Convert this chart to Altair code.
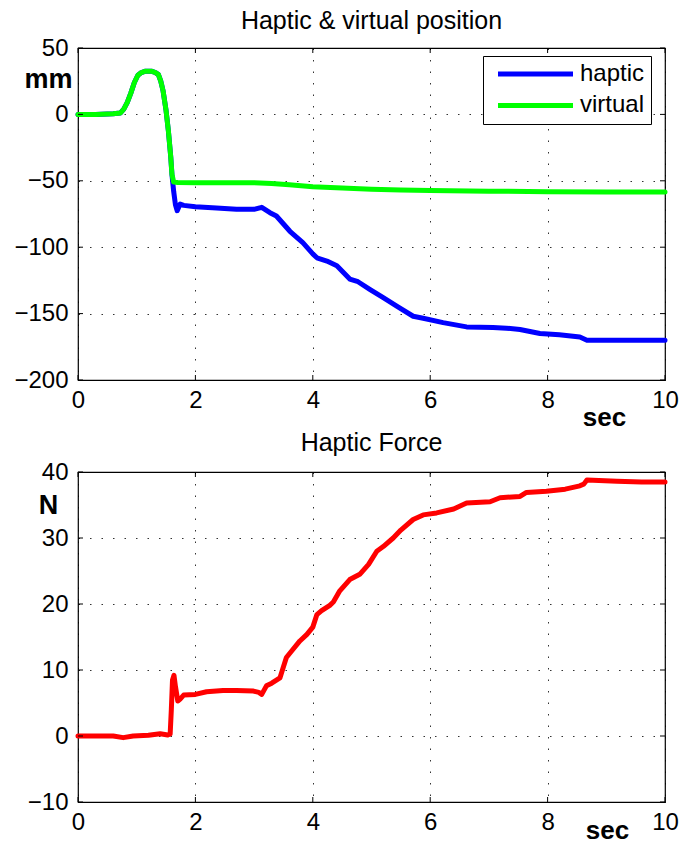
import altair as alt
import pandas as pd

# ---------------- data ----------------
pos_t = [0, 0.3, 0.6, 0.72, 0.78, 0.84, 0.9, 0.96, 1.02, 1.08,
         1.15, 1.25, 1.32, 1.37, 1.41, 1.45, 1.5, 1.54, 1.58, 1.6,
         1.63, 1.66, 1.69, 1.74, 1.8, 2.0, 2.36, 2.7, 3.0, 3.13,
         3.27, 3.38, 3.55, 3.61, 3.83, 4.0, 4.07, 4.24, 4.41, 4.63,
         4.77, 4.97, 5.2, 5.45, 5.71, 5.88, 6.22, 6.62, 7.07, 7.3,
         7.53, 7.87, 8.2, 8.55, 8.67, 9.0, 9.5, 10.0]
haptic_mm = [0, 0, 0.5, 1, 4, 9, 16, 24, 29.5, 31.5,
             32.5, 32.5, 31.5, 30, 25, 17.6, 3, -12.5, -32, -45,
             -58, -68, -72.5, -67.5, -68.5, -69.5, -70.5, -71.5, -71.5, -70,
             -74, -76.5, -85, -88, -96.6, -105, -108, -110.4, -114, -124,
             -126, -131.7, -138, -145, -152, -153.5, -156.8, -160, -160.5, -161,
             -162, -165, -166, -167.6, -170, -170, -170, -170]

virt_t = [0, 0.3, 0.6, 0.72, 0.78, 0.84, 0.9, 0.96, 1.02, 1.08,
          1.15, 1.25, 1.32, 1.37, 1.41, 1.45, 1.5, 1.54, 1.58, 1.6,
          1.63, 1.7, 2.0, 2.5, 3.0, 3.3, 3.6, 4.0, 4.5, 5.0,
          5.5, 6.0, 7.0, 8.0, 9.0, 10.0]
virtual_mm = [0, 0, 0.5, 1, 4, 9, 16, 24, 29.5, 31.5,
              32.5, 32.5, 31.5, 30, 25, 17.6, 3, -12.5, -32, -45,
              -51, -51.3, -51.5, -51.5, -51.5, -52, -53, -54.5, -55.5, -56.3,
              -57, -57.3, -57.8, -58.2, -58.5, -58.5]

force_t = [0, 0.3, 0.6, 0.77, 0.94, 1.2, 1.4, 1.53, 1.57, 1.59,
           1.61, 1.635, 1.66, 1.7, 1.74, 1.8, 2.0, 2.19, 2.47, 2.7,
           2.99, 3.08, 3.13, 3.21, 3.3, 3.44, 3.5, 3.55, 3.65, 3.78,
           3.9, 4.0, 4.07, 4.15, 4.29, 4.35, 4.46, 4.63, 4.8, 4.95,
           5.09, 5.2, 5.37, 5.5, 5.71, 5.88, 6.11, 6.4, 6.62, 7.02,
           7.19, 7.53, 7.64, 7.98, 8.3, 8.55, 8.62, 8.67, 9.18, 9.6,
           10.0]
force_N = [0, 0, 0, -0.25, 0, 0.1, 0.35, 0.15, 0.3, 4,
           8.5, 9.2, 7.5, 5.3, 5.6, 6.2, 6.3, 6.7, 6.9, 6.9,
           6.8, 6.6, 6.3, 7.6, 8, 8.8, 10.5, 11.9, 13, 14.4,
           15.4, 16.5, 18.4, 19, 19.8, 20.3, 22, 23.7, 24.5, 26,
           28, 28.7, 30, 31.2, 32.8, 33.5, 33.8, 34.4, 35.3, 35.5,
           36.1, 36.3, 36.9, 37.1, 37.4, 37.9, 38.2, 38.8, 38.6, 38.5,
           38.5]

series_names = ["haptic", "virtual"]
series_colors = ["#0000ff", "#00ff00"]
force_color = "#ff0000"

x_ticks = [0, 2, 4, 6, 8, 10]
pos_ticks = [-200, -150, -100, -50, 0, 50]
force_ticks = [-10, 0, 10, 20, 30, 40]

# ---------------- layout / style ----------------
FONT = "Liberation Sans"
W = 587
H1 = 332
H2 = 330
TICK = 5
LW = 5

pos_df = pd.concat([
    pd.DataFrame({"t": pos_t, "v": haptic_mm, "series": series_names[0]}),
    pd.DataFrame({"t": virt_t, "v": virtual_mm, "series": series_names[1]}),
], ignore_index=True)
force_df = pd.DataFrame({"t": force_t, "f": force_N})

xt_df = pd.DataFrame({"t": x_ticks})
pt_df = pd.DataFrame({"v": pos_ticks})
ft_df = pd.DataFrame({"f": force_ticks})

grid_kw = dict(grid=True, gridDash=[1.5, 10], gridColor="#000000", gridWidth=1,
               gridOpacity=0.8, ticks=False, domain=False, labelFont=FONT,
               labelFontSize=24, labelColor="black", labelOverlap=False)


def x_axis(sx, sy):
    return alt.Axis(values=x_ticks, labelPadding=8, labelFlush=False,
                    title="sec", titleFont=FONT, titleFontSize=26,
                    titleFontWeight="bold", titleColor="black",
                    titleX=sx, titleY=sy, titleAlign="center",
                    titleBaseline="middle", **grid_kw)


def y_axis(vals, title, ty):
    return alt.Axis(values=vals, labelPadding=10, title=title, titleFont=FONT,
                    titleFontSize=27, titleFontWeight="bold", titleColor="black",
                    titleAngle=0, titleX=-30, titleY=ty, titleAlign="center",
                    titleBaseline="middle", **grid_kw)


def panel(line_layer, yfield, yvals, ydomain, ytitle, ty, ytick_df, H, title,
          toff, sx, sy):
    xs = alt.Scale(domain=[0, 10], nice=False, zero=False)
    ys = alt.Scale(domain=ydomain, nice=False, zero=False)
    X = alt.X("t:Q", scale=xs, axis=x_axis(sx, sy))
    Y = alt.Y(f"{yfield}:Q", scale=ys, axis=y_axis(yvals, ytitle, ty))
    lines = line_layer.encode(x=X, y=Y)
    tb = alt.Chart(xt_df).mark_rule(color="black", strokeWidth=1).encode(
        x=X, y=alt.value(H), y2=alt.value(H - TICK))
    tt = alt.Chart(xt_df).mark_rule(color="black", strokeWidth=1).encode(
        x=X, y=alt.value(0), y2=alt.value(TICK))
    tl = alt.Chart(ytick_df).mark_rule(color="black", strokeWidth=1).encode(
        y=Y, x=alt.value(0), x2=alt.value(TICK))
    tr = alt.Chart(ytick_df).mark_rule(color="black", strokeWidth=1).encode(
        y=Y, x=alt.value(W), x2=alt.value(W - TICK))
    return alt.layer(lines, tb, tt, tl, tr).properties(
        width=W, height=H,
        title=alt.TitleParams(title, font=FONT, fontSize=25, fontWeight="normal",
                              color="black", anchor="middle", offset=toff,
                              baseline="alphabetic", frame="group"))


pos_lines = alt.Chart(pos_df).mark_line(
    strokeWidth=LW, strokeCap="round", strokeJoin="round").encode(
    color=alt.Color("series:N",
                    scale=alt.Scale(domain=series_names, range=series_colors),
                    legend=alt.Legend(orient="none", legendX=405, legendY=8,
                                      title=None, symbolType="M-0.4,0H9.6",
                                      symbolSize=225, symbolStrokeWidth=LW,
                                      labelOffset=67,
                                      labelFont=FONT, labelFontSize=24,
                                      labelColor="black", strokeColor="black",
                                      fillColor="white", padding=6,
                                      rowPadding=7.4, labelLimit=300)),
    order=alt.Order("t:Q"))

force_line = alt.Chart(force_df).mark_line(
    color=force_color, strokeWidth=LW, strokeCap="round", strokeJoin="round")

top = panel(pos_lines, "v", pos_ticks, [-200, 50], "mm", 31, pt_df, H1,
            "Haptic & virtual position", -18, 526, 37)
bottom = panel(force_line, "f", force_ticks, [-10, 40], "N", 33, ft_df, H2,
               "Haptic Force", -16, 529, 28)

chart = alt.vconcat(top, bottom, spacing=92, bounds="flush").resolve_scale(
    x="independent", y="independent", color="independent"
).resolve_legend(color="independent").properties(
    padding={"left": 13, "top": 8, "right": 0, "bottom": 0},
    background="white",
).configure_view(stroke="black", strokeWidth=1.2)

chart.save("out.html", embed_options={"renderer": "svg", "actions": False})
